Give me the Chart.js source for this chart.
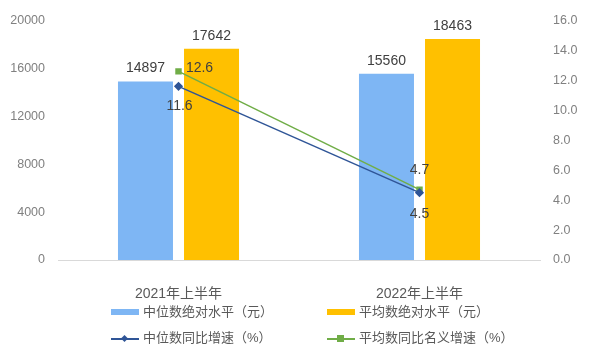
<!DOCTYPE html>
<html><head><meta charset="utf-8">
<script src="https://cdn.jsdelivr.net/npm/chart.js@4.4.1/dist/chart.umd.min.js"></script>
<style>
html,body{margin:0;padding:0;background:#fff;}
#wrap{position:relative;width:596px;height:364px;font-family:'Liberation Sans','Noto Sans CJK SC',sans-serif;}
canvas{position:absolute;left:0;top:0;}
.lg{position:absolute;font-size:13px;color:#595959;line-height:16px;white-space:nowrap;}
.sw{position:absolute;}
</style></head>
<body>
<div id="wrap">
<canvas id="c" width="596" height="364"></canvas>
</div>
<script>
const categories = ['2021年上半年', '2022年上半年'];
const medianLevel = [14897, 15560];
const meanLevel = [17642, 18463];
const medianGrowth = [11.6, 4.5];
const meanGrowth = [12.6, 4.7];
const leftTicks = [0, 4000, 8000, 12000, 16000, 20000];
const rightTicks = [0, 2, 4, 6, 8, 10, 12, 14, 16];
const seriesNames = ['中位数绝对水平（元）', '平均数绝对水平（元）', '中位数同比增速（%）', '平均数同比名义增速（%）'];

const FONT = "'Liberation Sans','Noto Sans CJK SC',sans-serif";
const colors = {bar1:'#7EB6F4', bar2:'#FFC000', line1:'#2F5597', line2:'#70AD47'};

const labelPlugin = {
  id:'labels',
  afterDatasetsDraw(chart){
    const ctx = chart.ctx;
    ctx.save();
    ctx.font = '14px ' + FONT;
    ctx.fillStyle = '#404040';
    ctx.textAlign = 'center';
    ctx.textBaseline = 'middle';
    const placements = {
      0: [[0,-13],[0,-13]],
      1: [[0,-13],[0,-13]],
      2: [[1,20],[0,21]],
      3: [[21,-3],[0,-20]]
    };
    chart.data.datasets.forEach((ds, di) => {
      const meta = chart.getDatasetMeta(di);
      meta.data.forEach((el, i) => {
        const [dx, dy] = placements[di][i];
        ctx.fillText(String(ds.data[i]), el.x + dx, el.y + dy);
      });
    });
    ctx.restore();
  }
};

new Chart(document.getElementById('c'), {
  data: {
    labels: categories,
    datasets: [
      {type:'bar', label:seriesNames[0], data:medianLevel, backgroundColor:colors.bar1, yAxisID:'y', order:2, categoryPercentage:0.548, barPercentage:0.833},
      {type:'bar', label:seriesNames[1], data:meanLevel, backgroundColor:colors.bar2, yAxisID:'y', order:2, categoryPercentage:0.548, barPercentage:0.833},
      {type:'line', label:seriesNames[2], data:medianGrowth, borderColor:colors.line1, backgroundColor:colors.line1, borderWidth:1.5, pointStyle:'rectRot', pointRadius:3.5, yAxisID:'y1', order:0},
      {type:'line', label:seriesNames[3], data:meanGrowth, borderColor:colors.line2, backgroundColor:colors.line2, borderWidth:1.5, pointStyle:'rect', pointRadius:3.5, yAxisID:'y1', order:0}
    ]
  },
  options: {
    responsive:false, animation:false,
    layout:{padding:{top:9, left:0, right:0, bottom:0}},
    plugins:{legend:{display:false}, tooltip:{enabled:false}},
    scales:{
      x:{
        grid:{display:false, drawTicks:false},
        border:{display:true, color:'#D9D9D9', width:1},
        ticks:{color:'#595959', font:{size:14, family:FONT}, padding:26},
        afterFit(s){ s.height = 104; }
      },
      y:{
        position:'left', min:0, max:20000,
        afterBuildTicks(s){ s.ticks = leftTicks.map(v=>({value:v})); },
        grid:{display:false, drawTicks:false},
        border:{display:false},
        ticks:{color:'#808080', font:{size:12.5, family:FONT}, padding:13, callback:v=>String(v)},
        afterFit(s){ s.width = 58; }
      },
      y1:{
        position:'right', min:0, max:16,
        afterBuildTicks(s){ s.ticks = rightTicks.map(v=>({value:v})); },
        grid:{display:false, drawTicks:false},
        border:{display:false},
        ticks:{color:'#808080', font:{size:12.5, family:FONT}, padding:13, callback:v=>Number(v).toFixed(1)},
        afterFit(s){ s.width = 56; }
      }
    }
  },
  plugins:[labelPlugin]
});

// HTML legend
const wrap = document.getElementById('wrap');
const legendPos = [
  {x:111, y:312, kind:'bar', color:colors.bar1},
  {x:327, y:312, kind:'bar', color:colors.bar2},
  {x:111, y:338, kind:'line', color:colors.line1, marker:'diamond'},
  {x:327, y:338, kind:'line', color:colors.line2, marker:'square'}
];
legendPos.forEach((p, i) => {
  if (p.kind === 'bar') {
    const s = document.createElement('div');
    s.className = 'sw';
    s.style.cssText = `left:${p.x}px;top:${p.y-3}px;width:28px;height:6px;background:${p.color};`;
    wrap.appendChild(s);
  } else {
    const s = document.createElement('div');
    s.className = 'sw';
    s.style.cssText = `left:${p.x}px;top:${p.y}px;width:28px;height:1.5px;background:${p.color};`;
    wrap.appendChild(s);
    const m = document.createElement('div');
    m.className = 'sw';
    if (p.marker === 'diamond') {
      m.style.cssText = `left:${p.x+11}px;top:${p.y-2}px;width:5px;height:5px;background:${p.color};transform:rotate(45deg);`;
    } else {
      m.style.cssText = `left:${p.x+10}px;top:${p.y-3}px;width:7px;height:7px;background:${p.color};`;
    }
    wrap.appendChild(m);
  }
  const t = document.createElement('div');
  t.className = 'lg';
  t.style.left = (p.x + 32) + 'px';
  t.style.top = (p.y - 8) + 'px';
  t.textContent = seriesNames[i];
  wrap.appendChild(t);
});
</script>
</body></html>
